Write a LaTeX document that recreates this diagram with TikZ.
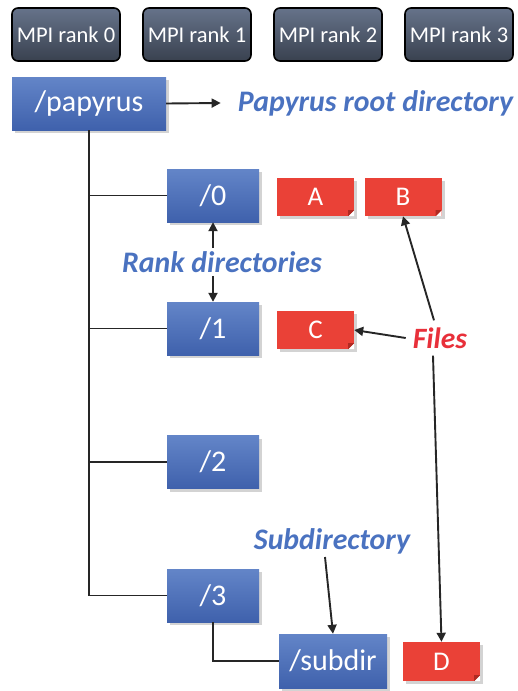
\documentclass[tikz,border=0pt]{standalone}
\usepackage{fontspec}
\setmainfont{Carlito}
\usetikzlibrary{shadows,arrows.meta}
\definecolor{bluetop}{HTML}{6385C8}
\definecolor{bluebot}{HTML}{3F61AC}
\definecolor{mpitop}{HTML}{66738A}
\definecolor{mpibot}{HTML}{39414F}
\definecolor{filered}{HTML}{EA4137}
\definecolor{filedark}{HTML}{B02A22}
\definecolor{lblblue}{HTML}{4A72C0}
\definecolor{lblred}{HTML}{E8303A}
\tikzset{
  mpibox/.style={draw=black, line width=1.6pt, rounded corners=6pt, top color=mpitop, bottom color=mpibot,
    minimum width=108pt, minimum height=53pt, text=white, font=\fontsize{22.5}{26}\selectfont, inner sep=0pt},
  dirbox/.style={top color=bluetop, bottom color=bluebot, drop shadow={shadow xshift=3pt, shadow yshift=-3pt, opacity=0.35},
    minimum height=53pt, text=white, font=\fontsize{30}{34}\selectfont, inner sep=0pt},
  filebox/.style={fill=filered, drop shadow={shadow xshift=3pt, shadow yshift=-3pt, opacity=0.35},
    minimum width=77pt, minimum height=38pt, text=white, font=\fontsize{27}{30}\selectfont, inner sep=0pt},
  bluelbl/.style={text=lblblue, font=\fontsize{29.8}{32}\selectfont\bfseries\itshape, inner sep=3pt},
  redlbl/.style={text=lblred, font=\fontsize{29.5}{32}\selectfont\bfseries\itshape, inner sep=7pt},
  treeline/.style={line width=1.9pt, draw=black!85},
  arr/.style={line width=1.9pt, draw=black!85, -{Triangle[length=9pt,width=9pt]}},
}
\newcommand{\foldcorner}[1]{%
  \fill[white] (#1.south east) -- ++(-6pt,0) -- ++(6pt,6pt) -- cycle;
  \fill[filedark] ([xshift=-6pt]#1.south east) -- ++(6pt,6pt) -- ++(-6pt,0) -- cycle;}
\begin{document}
\begin{tikzpicture}[x=1pt,y=-1pt]
\useasboundingbox (0,0) rectangle (518,691);
% MPI ranks
\node[mpibox] (m0) at (66,34.5) {MPI rank 0};
\node[mpibox] (m1) at (197,34.5) {MPI rank 1};
\node[mpibox] (m2) at (328,34.5) {MPI rank 2};
\node[mpibox] (m3) at (459,34.5) {MPI rank 3};
% directories
\node[dirbox, minimum width=154pt] (pap) at (89,103.5) {/papyrus};
\node[dirbox, minimum width=92pt] (d0) at (213,195.5) {/0};
\node[dirbox, minimum width=92pt] (d1) at (213,328.5) {/1};
\node[dirbox, minimum width=92pt] (d2) at (213,462) {/2};
\node[dirbox, minimum width=92pt] (d3) at (213,595.5) {/3};
\node[dirbox, minimum width=108pt, minimum height=54pt] (sub) at (333,661) {/subdir};
% files
\node[filebox] (fa) at (315.5,197) {A};
\node[filebox] (fb) at (403,197) {B};
\node[filebox] (fc) at (315.5,330) {C};
\node[filebox, minimum height=39pt] (fd) at (441.5,661.5) {D};
\foldcorner{fa}\foldcorner{fb}\foldcorner{fc}\foldcorner{fd}
% labels
\node[bluelbl] (root) at (375.5,103) {Papyrus root directory};
\node[bluelbl] (rank) at (222,262) {Rank directories};
\node[bluelbl] (subl) at (332,541) {Subdirectory};
\node[redlbl] (files) at (440,338) {Files};
% tree
\draw[treeline] (pap.south) |- (d3.west);
\draw[treeline] (pap.south |- d0.west) -- (d0.west);
\draw[treeline] (pap.south |- d1.west) -- (d1.west);
\draw[treeline] (pap.south |- d2.west) -- (d2.west);
\draw[treeline] (d3.south) |- (sub.west);
% arrows
\draw[arr] (pap.east) -- ([xshift=-14pt]root.west);
\draw[arr] (d0.south |- rank.north) -- (d0.south);
\draw[arr] (d1.north |- rank.south) -- (d1.north);
\draw[arr] ([xshift=-6pt]files.north) -- (fb.south);
\draw[arr] (files.west) -- (fc.east);
\draw[arr] ([xshift=-7pt]files.south) -- (fd.north);
\draw[arr] ([xshift=-7pt]subl.south) -- (sub.north);
\end{tikzpicture}
\end{document}
